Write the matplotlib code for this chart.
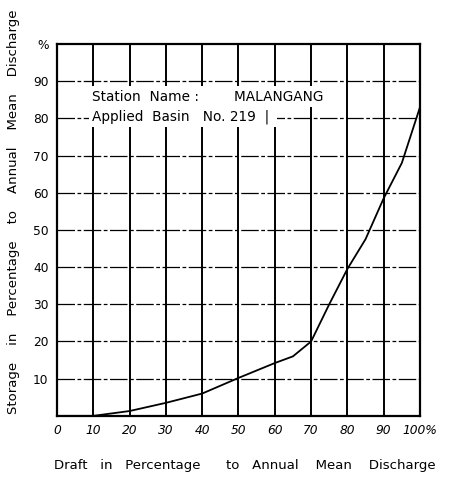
import matplotlib.pyplot as plt
import numpy as np

# values
draft = [0, 10, 20, 30, 40, 50, 60, 65, 70, 75, 80, 85, 90, 95, 100]
storage = [0, 0, 1.3, 3.5, 6, 10.2, 14.2, 16, 20, 30, 39.5, 47.5, 58.5, 68, 83]
x_ticks = [0, 10, 20, 30, 40, 50, 60, 70, 80, 90, 100]
x_labels = ["0", "10", "20", "30", "40", "50", "60", "70", "80", "90", "100%"]
y_ticks = [10, 20, 30, 40, 50, 60, 70, 80, 90, 100]
y_labels = ["10", "20", "30", "40", "50", "60", "70", "80", "90", "%"]

station = "MALANGANG"
basin_no = "219"

plt.rcParams['font.family'] = ['DejaVu Sans']

fig = plt.figure(figsize=(4.56, 4.78), dpi=100)
ax = fig.add_axes([0.125, 0.13, 0.796, 0.778])

ax.set_xlim(0, 100)
ax.set_ylim(0, 100)

# grid: heavy verticals, broken horizontals like the scan
for xv in x_ticks[1:-1]:
    ax.axvline(xv, color="black", lw=1.4, zorder=1)
for yv in y_ticks[:-1]:
    ax.axhline(yv, color="black", lw=0.9, ls=(0, (14, 2, 3, 2)), zorder=1)

ax.plot(draft, storage, color="black", lw=1.3, zorder=3)

for s in ax.spines.values():
    s.set_linewidth(1.6)

ax.set_xticks(x_ticks)
ax.set_xticklabels(x_labels, fontsize=8.8, style="italic")
ax.set_yticks(y_ticks)
ax.set_yticklabels(y_labels, fontsize=8.8)
ax.tick_params(length=0, pad=6)

# station box, each line blanks the grid behind it
box = dict(facecolor="white", edgecolor="none", pad=2.5)
ax.text(9.7, 85.8, "Station  Name :        " + station,
        fontsize=9.8, va="center", ha="left", bbox=box, zorder=4)
ax.text(9.7, 80.5, "Applied  Basin   No. " + basin_no + "  | ",
        fontsize=9.8, va="center", ha="left", bbox=box, zorder=4)

fig.text(0.537, 0.027,
         "Draft   in   Percentage      to   Annual    Mean    Discharge",
         fontsize=9.5, ha="center", va="center")
fig.text(0.03, 0.556,
         "Storage    in    Percentage    to    Annual    Mean    Discharge",
         fontsize=9.5, ha="center", va="center", rotation=90)

fig.savefig("out.png", dpi=100)
